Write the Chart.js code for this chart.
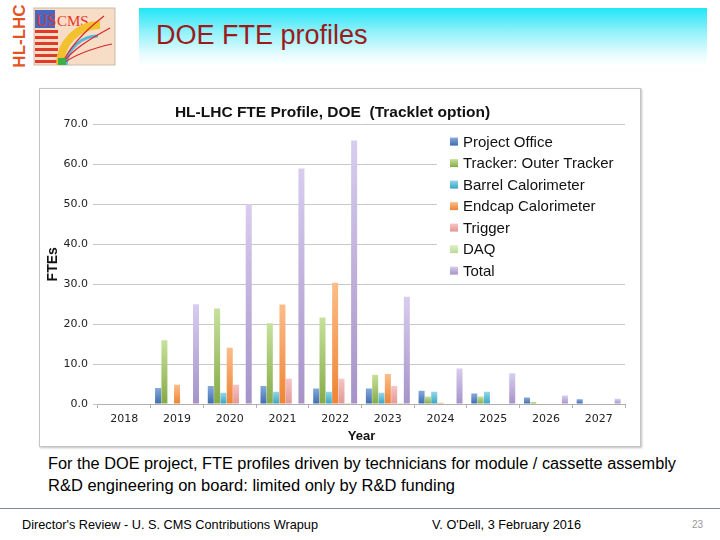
<!DOCTYPE html>
<html>
<head>
<meta charset="utf-8">
<script src="https://cdn.jsdelivr.net/npm/chart.js@4.4.1/dist/chart.umd.min.js"></script>
<style>
  body { margin: 0; width: 720px; height: 540px; background: #fff; position: relative; overflow: hidden;
         font-family: "Liberation Sans", Arial, sans-serif; }
  .abs { position: absolute; white-space: nowrap; }
  #banner { left: 139px; top: 8px; width: 568px; height: 58px;
            background: linear-gradient(to bottom, #1fe6f7 0%, #8ff1fa 40%, #e6fcfe 80%, #ffffff 100%); }
  #slideTitle { left: 156px; top: 20px; font-size: 27px; color: #9b1b1b; }
  #frame { left: 39px; top: 88px; width: 600px; height: 357px; border: 1px solid #c4c4c4;
           box-shadow: 1px 1px 2px rgba(0,0,0,0.25); background: #fff; }
  #chartBox { left: 40px; top: 89px; width: 599px; height: 356px; }
  .note { font-size: 16px; color: #000; transform-origin: 0 0; }
  #rule { left: 0; top: 508px; width: 720px; height: 0; border-top: 1.5px solid #7d8c9c; }
  .foot { font-size: 13px; color: #000; transform-origin: 0 0; }
</style>
</head>
<body>

<svg class="abs" style="left:0;top:0" width="118" height="70">
  <text transform="translate(25,36) rotate(-90)" text-anchor="middle" font-family="Liberation Sans, Arial" font-weight="bold" font-size="17" fill="#e4531f">HL-LHC</text>
  <rect x="34" y="8" width="81" height="57" fill="#f7dcc6" stroke="#cbb9a8" stroke-width="1"/>
  <g fill="#e23a2a">
    <rect x="35" y="30" width="23" height="3"/>
    <rect x="35" y="36" width="23" height="3"/>
    <rect x="35" y="42" width="23" height="3"/>
    <rect x="35" y="48" width="23" height="3"/>
    <rect x="35" y="54" width="23" height="3"/>
    <rect x="35" y="60" width="23" height="3"/>
  </g>
  <rect x="35" y="10" width="20" height="18" fill="#4a67c0"/>
  <text x="36" y="26" font-family="Liberation Serif, serif" font-size="16" fill="#e8352c">US</text>
  <text x="57" y="26" font-family="Liberation Serif, serif" font-size="15" fill="#e8352c">CMS</text>
  <path d="M60 65 A 40 40 0 0 1 100 25" stroke="#f3c02e" stroke-width="8" fill="none"/>
  <path d="M66 65 A 32 32 0 0 1 98 36" stroke="#57b6e0" stroke-width="3" fill="none"/>
  <path d="M62 64 C 72 50, 88 40, 110 28" stroke="#d6262a" stroke-width="1.2" fill="none"/>
  <path d="M62 64 C 76 54, 94 48, 112 44" stroke="#d6262a" stroke-width="1.2" fill="none"/>
  <path d="M62 64 C 70 46, 86 30, 104 16" stroke="#d6262a" stroke-width="1.2" fill="none"/>
  <rect x="58" y="58" width="8" height="7" fill="#3cae48"/>
</svg>

<div id="banner" class="abs"></div>
<div id="slideTitle" class="abs">DOE FTE profiles</div>

<div id="frame" class="abs"></div>
<div id="chartBox" class="abs"><canvas id="fteChart" width="599" height="356"></canvas></div>

<div class="abs note" style="left:48px;top:455px" data-w="628">For the DOE project, FTE profiles driven by technicians for module / cassette assembly</div>
<div class="abs note" style="left:48px;top:477px" data-w="407">R&amp;D engineering on board: limited only by R&amp;D funding</div>
<div id="rule" class="abs"></div>
<div class="abs foot" style="left:22px;top:517px" data-w="296">Director's Review - U. S. CMS Contributions Wrapup</div>
<div class="abs foot" style="left:432px;top:517px" data-w="149">V. O'Dell, 3 February 2016</div>
<div class="abs" style="left:692px;top:519px;font-size:10px;color:#999">23</div>

<script>
// values
const years = ['2018', '2019', '2020', '2021', '2022', '2023', '2024', '2025', '2026', '2027'];
const seriesNames = ['Project Office', 'Tracker: Outer Tracker', 'Barrel Calorimeter',
  'Endcap Calorimeter', 'Trigger', 'DAQ', 'Total'];

const projectOffice = [0, 4.0, 4.5, 4.5, 3.9, 3.9, 3.3, 2.6, 1.6, 1.2];
const outerTracker  = [0, 16.0, 23.9, 20.2, 21.7, 7.3, 1.9, 1.9, 0.5, 0];
const barrelCalo    = [0, 0, 2.8, 3.1, 3.1, 2.8, 3.1, 3.1, 0, 0];
const endcapCalo    = [0, 4.8, 14.1, 24.9, 30.4, 7.5, 0.3, 0, 0, 0];
const trigger       = [0, 0, 4.8, 6.3, 6.3, 4.5, 0, 0, 0, 0];
const daq           = [0, 0, 0, 0, 0.3, 0.3, 0, 0, 0, 0];
const total         = [0, 25.0, 50.1, 59.0, 66.0, 26.9, 8.9, 7.7, 2.1, 1.3];

const yTicks = [0, 10, 20, 30, 40, 50, 60, 70];

// bar shading, light top -> dark bottom
const colTop    = ['#86a9db', '#c6e19c', '#94d8eb', '#fbbd8a', '#f6c4c4', '#def0c8', '#d8cdef'];
const colBottom = ['#3e6cae', '#86aa46', '#36a4c4', '#ee8433', '#e39797', '#b9da93', '#a593c8'];

function barFill(i) {
  return function(c) {
    const chart = c.chart;
    const y = chart.scales && chart.scales.y;
    if (!y || !c.parsed) return colBottom[i];
    const y0 = y.getPixelForValue(0);
    const y1 = y.getPixelForValue(c.parsed.y);
    if (!isFinite(y1) || Math.abs(y0 - y1) < 1) return colBottom[i];
    const g = chart.ctx.createLinearGradient(0, y1, 0, y0);
    g.addColorStop(0, colTop[i]);
    g.addColorStop(1, colBottom[i]);
    return g;
  };
}

const seriesData = [projectOffice, outerTracker, barrelCalo, endcapCalo, trigger, daq, total];

// legend drawn inside the plot, over the grid
const insideLegend = {
  id: 'insideLegend',
  afterDraw(chart) {
    const { ctx, chartArea } = chart;
    const x0 = chartArea.right - 188, y0 = chartArea.top + 4;
    ctx.save();
    ctx.fillStyle = '#fff';
    ctx.fillRect(x0, y0, 188, 152);
    ctx.font = '15px "Liberation Sans", Arial, sans-serif';
    ctx.textBaseline = 'middle';
    chart.data.datasets.forEach((ds, i) => {
      const cy = chartArea.top + 17 + i * 21.5;
      const g = ctx.createLinearGradient(0, cy - 4, 0, cy + 4);
      g.addColorStop(0, colTop[i]);
      g.addColorStop(1, colBottom[i]);
      ctx.fillStyle = g;
      ctx.fillRect(x0 + 13, cy - 4, 8, 8);
      ctx.fillStyle = '#111';
      ctx.fillText(ds.label, x0 + 26, cy + 1);
    });
    ctx.restore();
  }
};

new Chart(document.getElementById('fteChart'), {
  type: 'bar',
  data: {
    labels: years,
    datasets: seriesNames.map((name, i) => ({
      label: name,
      data: seriesData[i],
      backgroundColor: barFill(i),
      borderWidth: 0,
      categoryPercentage: 0.84,
      barPercentage: 0.95
    }))
  },
  plugins: [insideLegend],
  options: {
    responsive: false,
    animation: false,
    layout: { padding: { left: 0, right: 14, top: 0, bottom: 0 } },
    plugins: {
      legend: { display: false },
      tooltip: { enabled: false },
      title: {
        display: true,
        text: 'HL-LHC FTE Profile, DOE  (Tracklet option)',
        color: '#111',
        font: { family: '"Liberation Sans", Arial, sans-serif', size: 15.5, weight: 'bold' },
        padding: { top: 14, bottom: 3 }
      }
    },
    scales: {
      x: {
        afterFit: s => { s.height = 41; },
        border: { color: '#b0b0b0' },
        grid: { drawOnChartArea: false, drawTicks: true, tickLength: 4, color: '#b0b0b0' },
        ticks: { color: '#222', padding: 5, font: { family: '"DejaVu Sans", sans-serif', size: 11 } },
        title: {
          display: true, text: 'Year', color: '#111',
          font: { family: '"Liberation Sans", Arial, sans-serif', size: 13, weight: 'bold' },
          padding: { top: 0, bottom: 1 }
        }
      },
      y: {
        min: 0, max: 70,
        afterFit: s => { s.width = 58; },
        afterBuildTicks: s => { s.ticks = yTicks.map(v => ({ value: v })); },
        border: { display: false },
        grid: { color: '#c8c8c8', tickLength: 5 },
        ticks: { color: '#222', padding: 5, callback: v => v.toFixed(1),
                 font: { family: '"DejaVu Sans", sans-serif', size: 11 } },
        title: {
          display: true, text: 'FTEs', color: '#111',
          font: { family: '"Liberation Sans", Arial, sans-serif', size: 14, weight: 'bold' },
          padding: { top: 5, bottom: 0 }
        }
      }
    }
  }
});

// squeeze slide text to the widths seen in the picture
document.querySelectorAll('[data-w]').forEach(el => {
  const w = el.getBoundingClientRect().width;
  el.style.transform = 'scaleX(' + (parseFloat(el.dataset.w) / w) + ')';
});
</script>
</body>
</html>
